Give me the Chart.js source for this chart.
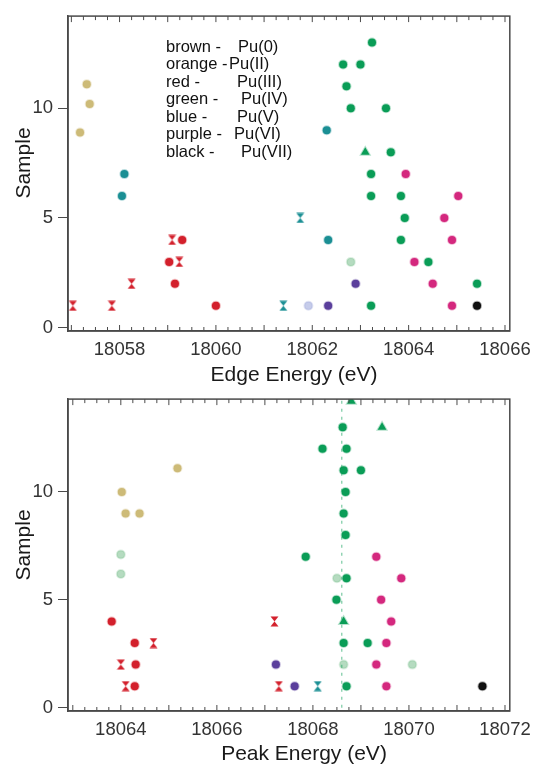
<!DOCTYPE html>
<html>
<head>
<meta charset="utf-8">
<script src="https://cdn.jsdelivr.net/npm/chart.js@4.4.1/dist/chart.umd.min.js"></script>
<style>
  html, body { margin: 0; padding: 0; background: #fff; }
  .wrap { position: absolute; left: 0; width: 539px; }
  #topWrap { top: 0; height: 400px; z-index: 2; }
  #botWrap { top: 383px; height: 383px; z-index: 1; }
</style>
</head>
<body>
<div class="wrap" id="topWrap"><canvas id="edgeChart" width="539" height="400"></canvas></div>
<div class="wrap" id="botWrap"><canvas id="peakChart" width="539" height="383"></canvas></div>
<script>
// ---- Edge energy (top panel) ----
const edgeTanX = [18057.32, 18057.38, 18057.18];
const edgeTanY = [11.1, 10.2, 8.9];
const edgeRedX = [18059.3, 18059.03, 18059.15, 18060.0];
const edgeRedY = [4, 3, 2, 1];
const edgeRedBarX = [18057.03, 18057.84, 18058.25, 18059.09, 18059.24];
const edgeRedBarY = [1, 1, 2, 4, 3];
const edgeTealX = [18058.1, 18058.05, 18062.3, 18062.33];
const edgeTealY = [7, 6, 9, 4];
const edgeTealBarX = [18061.75, 18061.4];
const edgeTealBarY = [5, 1];
const edgeBlueX = [18061.92];
const edgeBlueY = [1];
const edgeGreenX = [18063.24, 18062.64, 18063.0, 18062.71, 18062.8, 18063.53, 18063.63, 18063.22,
                    18063.22, 18063.84, 18063.92, 18063.84, 18064.41, 18065.42, 18063.22];
const edgeGreenY = [13, 12, 12, 11, 10, 10, 8, 7, 6, 6, 5, 4, 3, 2, 1];
const edgeGreenTriX = [18063.1];
const edgeGreenTriY = [8];
const edgePaleGreenX = [18062.8];
const edgePaleGreenY = [3];
const edgePurpleX = [18062.33, 18062.9];
const edgePurpleY = [1, 2];
const edgeMagentaX = [18063.94, 18065.03, 18064.74, 18064.9, 18064.12, 18064.5, 18064.9];
const edgeMagentaY = [7, 6, 5, 4, 3, 2, 1];
const edgeBlackX = [18065.42];
const edgeBlackY = [1];

// ---- Peak energy (bottom panel) ----
const peakTanX = [18064.02, 18064.1, 18064.39, 18065.18];
const peakTanY = [10, 9, 9, 11.1];
const peakRedX = [18063.81, 18064.29, 18064.31, 18064.29];
const peakRedY = [4, 3, 2, 1];
const peakRedBarX = [18064.68, 18064.0, 18064.1, 18067.2, 18067.29];
const peakRedBarY = [3, 2, 1, 4, 1];
const peakPurpleX = [18067.23, 18067.62];
const peakPurpleY = [2, 1];
const peakTealBarX = [18068.1];
const peakTealBarY = [1];
const peakPaleX = [18064.0, 18064.0, 18068.64, 18070.07, 18068.5];
const peakPaleY = [7.1, 6.2, 2, 2, 6];
const peakGreenX = [18068.7, 18068.64, 18069.14, 18068.49, 18068.7, 18067.85, 18068.68, 18068.64,
                    18068.68, 18068.64, 18069.0, 18068.2, 18068.7, 18068.62];
const peakGreenY = [1, 3, 3, 5, 6, 7, 8, 9, 10, 11, 11, 12, 12, 13];
const peakGreenTriX = [18068.64, 18069.44, 18068.8];
const peakGreenTriY = [4, 13, 14.2];
const peakMagentaX = [18069.53, 18069.32, 18069.53, 18069.63, 18069.42, 18069.84, 18069.32];
const peakMagentaY = [1, 2, 3, 4, 5, 6, 7];
const peakBlackX = [18071.53];
const peakBlackY = [1];
const peakGuideX = [18068.6, 18068.6];
const peakGuideY = [0, 14.3];

// ---- labels / ticks ----
const sampleTicks = [0, 5, 10];
const edgeTicks = [18058, 18060, 18062, 18064, 18066];
const peakTicks = [18064, 18066, 18068, 18070, 18072];
const keyColours = ['brown -', 'orange -', 'red -', 'green -', 'blue -', 'purple -', 'black -'];
const keyStates = ['Pu(0)', 'Pu(II)', 'Pu(III)', 'Pu(IV)', 'Pu(V)', 'Pu(VI)', 'Pu(VII)'];
const keyStateLeft = [238, 229, 237, 241, 237, 234, 241];

const FONT = '"Liberation Sans", Arial, Helvetica, sans-serif';
const AXIS = '#4a4a4a';

function pts(xs, ys) {
    return xs.map((x, i) => ({ x: x, y: ys[i] }));
}

function bowtie(color) {
    const c = document.createElement('canvas');
    c.width = 9; c.height = 11;
    const g = c.getContext('2d');
    g.fillStyle = color;
    g.beginPath();
    g.moveTo(0.5, 0.5); g.lineTo(8.5, 0.5); g.lineTo(4.5, 5.5); g.closePath();
    g.moveTo(0.5, 10.5); g.lineTo(8.5, 10.5); g.lineTo(4.5, 5.5); g.closePath();
    g.fill();
    return c;
}

function dots(xs, ys, color, halo, style) {
    return {
        data: pts(xs, ys),
        pointStyle: style || 'circle',
        pointRadius: style === 'triangle' ? 5 : 4,
        backgroundColor: color,
        borderColor: halo,
        borderWidth: 2,
        showLine: false
    };
}

function bars(xs, ys, color) {
    return {
        data: pts(xs, ys),
        pointStyle: bowtie(color),
        pointRadius: 5,
        showLine: false
    };
}

const frame = {
    id: 'frame',
    afterDraw(chart, args, opts) {
        const { ctx, chartArea: a, scales } = chart;
        const xs = scales.x;
        ctx.save();
        ctx.strokeStyle = AXIS;
        ctx.lineWidth = 1.5;
        ctx.strokeRect(a.left, a.top, a.right - a.left, a.bottom - a.top);
        ctx.lineWidth = 1;
        const start = Math.ceil(xs.min * 4) / 4;
        for (let v = start; v <= xs.max; v += 0.25) {
            const px = xs.getPixelForValue(v);
            const len = Math.abs(v - Math.round(v)) < 0.01 ? 6 : 4;
            ctx.beginPath();
            ctx.moveTo(px, a.bottom); ctx.lineTo(px, a.bottom - len);
            ctx.moveTo(px, a.top); ctx.lineTo(px, a.top + len);
            ctx.stroke();
        }
        // axis titles
        ctx.fillStyle = '#1a1a1a';
        ctx.font = '21px ' + FONT;
        ctx.textAlign = 'center';
        ctx.textBaseline = 'alphabetic';
        ctx.fillText(opts.xTitle, opts.xTitleX, opts.xTitleY);
        ctx.translate(30, opts.yTitleY);
        ctx.rotate(-Math.PI / 2);
        ctx.fillText('Sample', 0, 0);
        ctx.restore();
    }
};

const key = {
    id: 'key',
    afterDraw(chart, args, opts) {
        if (!opts.show) return;
        const ctx = chart.ctx;
        ctx.save();
        ctx.fillStyle = '#111';
        ctx.font = '16.5px ' + FONT;
        ctx.textBaseline = 'middle';
        ctx.textAlign = 'left';
        keyColours.forEach((name, i) => {
            const y = 47 + i * 17.5;
            ctx.fillText(name, 166, y);
            ctx.fillText(keyStates[i], keyStateLeft[i], y);
        });
        ctx.restore();
    }
};

function makeOptions(xMin, xMax, yMax, xTickList, padTop, xAxisH, titles) {
    return {
        responsive: false,
        animation: false,
        layout: { padding: { top: padTop, right: 26, left: 0, bottom: 0 } },
        plugins: {
            legend: { display: false },
            tooltip: { enabled: false },
            frame: titles,
            key: { show: titles.key }
        },
        scales: {
            x: {
                type: 'linear',
                min: xMin,
                max: xMax,
                afterBuildTicks: s => { s.ticks = xTickList.map(v => ({ value: v })); },
                afterFit: s => { s.height = xAxisH; },
                grid: { display: true, drawOnChartArea: false, drawTicks: false },
                border: { color: AXIS, width: 1.5 },
                ticks: {
                    color: '#333',
                    font: { size: 18.5, family: FONT },
                    padding: 8,
                    maxRotation: 0,
                    callback: v => String(v)
                }
            },
            y: {
                type: 'linear',
                min: -0.15,
                max: yMax,
                afterBuildTicks: s => { s.ticks = sampleTicks.map(v => ({ value: v })); },
                afterFit: s => { s.width = 68; },
                grid: { display: true, drawOnChartArea: false, drawTicks: true, tickLength: 10, tickColor: AXIS },
                border: { color: AXIS, width: 1.5 },
                ticks: {
                    color: '#333',
                    font: { size: 18.5, family: FONT },
                    padding: 5,
                    callback: v => String(v)
                }
            }
        }
    };
}

const RED = '#d3202c', RED_H = 'rgba(211,32,44,0.3)';
const GREEN = '#0a9d57', GREEN_H = 'rgba(10,157,87,0.3)';
const TEAL = '#1b8f94', TEAL_H = 'rgba(27,143,148,0.3)';
const MAG = '#d4287e', MAG_H = 'rgba(212,40,126,0.3)';
const PURP = '#5b3f9c', PURP_H = 'rgba(91,63,156,0.3)';
const TAN = '#cdbb78', TAN_H = 'rgba(205,187,120,0.3)';
const PALE = 'rgba(120,190,140,0.55)', PALE_H = 'rgba(120,190,140,0.25)';

new Chart(document.getElementById('edgeChart'), {
    type: 'scatter',
    data: {
        datasets: [
            dots(edgeTanX, edgeTanY, TAN, TAN_H),
            dots(edgeBlueX, edgeBlueY, 'rgba(160,170,220,0.6)', 'rgba(160,170,220,0.3)'),
            dots(edgePaleGreenX, edgePaleGreenY, PALE, PALE_H),
            dots(edgeRedX, edgeRedY, RED, RED_H),
            bars(edgeRedBarX, edgeRedBarY, RED),
            dots(edgeTealX, edgeTealY, TEAL, TEAL_H),
            bars(edgeTealBarX, edgeTealBarY, TEAL),
            dots(edgeGreenX, edgeGreenY, GREEN, GREEN_H),
            dots(edgeGreenTriX, edgeGreenTriY, GREEN, GREEN_H, 'triangle'),
            dots(edgePurpleX, edgePurpleY, PURP, PURP_H),
            dots(edgeMagentaX, edgeMagentaY, MAG, MAG_H),
            dots(edgeBlackX, edgeBlackY, '#111', 'rgba(0,0,0,0.3)')
        ]
    },
    options: makeOptions(18056.93, 18066.1, 14.2, edgeTicks, 15, 69,
        { xTitle: 'Edge Energy (eV)', xTitleX: 294, xTitleY: 381, yTitleY: 163, key: true }),
    plugins: [frame, key]
});

new Chart(document.getElementById('peakChart'), {
    type: 'scatter',
    data: {
        datasets: [
            {
                data: pts(peakGuideX, peakGuideY),
                showLine: true,
                borderColor: 'rgba(10,157,87,0.45)',
                borderDash: [3, 5],
                borderWidth: 1.5,
                pointRadius: 0
            },
            dots(peakTanX, peakTanY, TAN, TAN_H),
            dots(peakPaleX, peakPaleY, PALE, PALE_H),
            dots(peakRedX, peakRedY, RED, RED_H),
            bars(peakRedBarX, peakRedBarY, RED),
            dots(peakPurpleX, peakPurpleY, PURP, PURP_H),
            bars(peakTealBarX, peakTealBarY, TEAL),
            dots(peakGreenX, peakGreenY, GREEN, GREEN_H),
            dots(peakGreenTriX, peakGreenTriY, GREEN, GREEN_H, 'triangle'),
            dots(peakMagentaX, peakMagentaY, MAG, MAG_H),
            dots(peakBlackX, peakBlackY, '#111', 'rgba(0,0,0,0.3)')
        ]
    },
    options: makeOptions(18062.9, 18072.1, 14.3, peakTicks, 14, 55,
        { xTitle: 'Peak Energy (eV)', xTitleX: 304, xTitleY: 377, yTitleY: 162, key: false }),
    plugins: [frame, key]
});
</script>
</body>
</html>
